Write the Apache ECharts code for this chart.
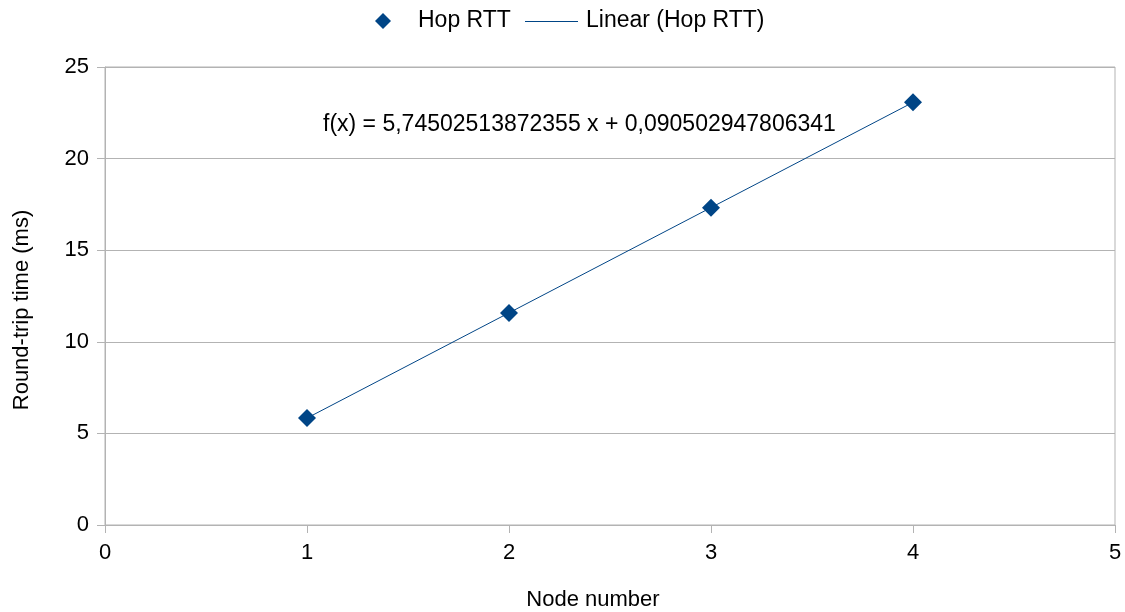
<!DOCTYPE html>
<html>
<head>
<meta charset="utf-8">
<script src="https://cdn.jsdelivr.net/npm/echarts@6/dist/echarts.min.js"></script>
<style>
  html, body { margin: 0; padding: 0; background: #fff; }
  #chart { width: 1125px; height: 612px; }
</style>
</head>
<body>
<div id="chart"></div>
<script>
// Measured round-trip time per hop
const nodeNumbers = [1, 2, 3, 4];
const hopRtt = [5.84, 11.57, 17.32, 23.08];

// Least-squares fit coefficients shown on the chart
const slope = 5.74502513872355;
const intercept = 0.090502947806341;
const equationLabel = 'f(x) = 5,74502513872355 x + 0,090502947806341';

const xTicks = [0, 1, 2, 3, 4, 5];
const yTicks = [0, 5, 10, 15, 20, 25];

const seriesName = 'Hop RTT';
const trendName = 'Linear (Hop RTT)';
const xTitle = 'Node number';
const yTitle = 'Round-trip time (ms)';

const FONT = '"Liberation Sans", Arial, sans-serif';
const BLUE = '#004586';
const GRID_GRAY = '#b3b3b3';

const trendPoints = [nodeNumbers[0], nodeNumbers[nodeNumbers.length - 1]]
  .map(x => [x, slope * x + intercept]);

const chart = echarts.init(document.getElementById('chart'), null, { renderer: 'canvas' });

chart.setOption({
  animation: false,
  textStyle: { fontFamily: FONT },
  grid: {
    left: 105, right: 10, top: 67, bottom: 87,
    show: true, borderColor: GRID_GRAY, borderWidth: 1,
    containLabel: false,
    outerBoundsMode: 'none'
  },
  xAxis: {
    type: 'value',
    min: xTicks[0], max: xTicks[xTicks.length - 1], interval: 1,
    axisLine: { show: true, lineStyle: { color: GRID_GRAY, width: 1 } },
    axisTick: { show: true, length: 8, lineStyle: { color: GRID_GRAY } },
    axisLabel: { fontFamily: FONT, fontSize: 22, color: '#000', margin: 17 },
    splitLine: { show: false }
  },
  yAxis: {
    type: 'value',
    min: yTicks[0], max: yTicks[yTicks.length - 1], interval: 5,
    axisLine: { show: true, lineStyle: { color: GRID_GRAY, width: 1 } },
    axisTick: { show: true, length: 8, lineStyle: { color: GRID_GRAY } },
    axisLabel: { fontFamily: FONT, fontSize: 22, color: '#000', margin: 16 },
    splitLine: { show: true, lineStyle: { color: GRID_GRAY, width: 1 } }
  },
  series: [
    {
      name: trendName,
      type: 'line',
      data: trendPoints,
      symbol: 'none',
      lineStyle: { color: BLUE, width: 1 },
      itemStyle: { color: BLUE },
      z: 2
    },
    {
      name: seriesName,
      type: 'scatter',
      data: nodeNumbers.map((x, i) => [x, hopRtt[i]]),
      symbol: 'diamond',
      symbolSize: 18,
      itemStyle: { color: BLUE, opacity: 1 },
      z: 3
    }
  ],
  graphic: [
    // legend: marker key
    {
      type: 'polygon',
      shape: { points: [[383, 13], [391, 21], [383, 29], [375, 21]] },
      style: { fill: BLUE }
    },
    {
      type: 'text', x: 418, y: 21,
      style: { text: seriesName, font: '23px ' + FONT, fill: '#000', verticalAlign: 'middle' }
    },
    // legend: trend line key
    {
      type: 'line',
      shape: { x1: 525, y1: 21.5, x2: 578, y2: 21.5 },
      style: { stroke: BLUE, lineWidth: 1 }
    },
    {
      type: 'text', x: 586, y: 21,
      style: { text: trendName, font: '23px ' + FONT, fill: '#000', verticalAlign: 'middle' }
    },
    // regression equation
    {
      type: 'text', x: 323, y: 125,
      style: { text: equationLabel, font: '23px ' + FONT, fill: '#000', verticalAlign: 'middle' }
    },
    // axis titles
    {
      type: 'text', x: 593, y: 600,
      style: { text: xTitle, font: '22px ' + FONT, fill: '#000', align: 'center', verticalAlign: 'middle' }
    },
    {
      type: 'text', x: 22, y: 310, rotation: Math.PI / 2,
      style: { text: yTitle, font: '22px ' + FONT, fill: '#000', align: 'center', verticalAlign: 'middle' }
    }
  ]
});
</script>
</body>
</html>
